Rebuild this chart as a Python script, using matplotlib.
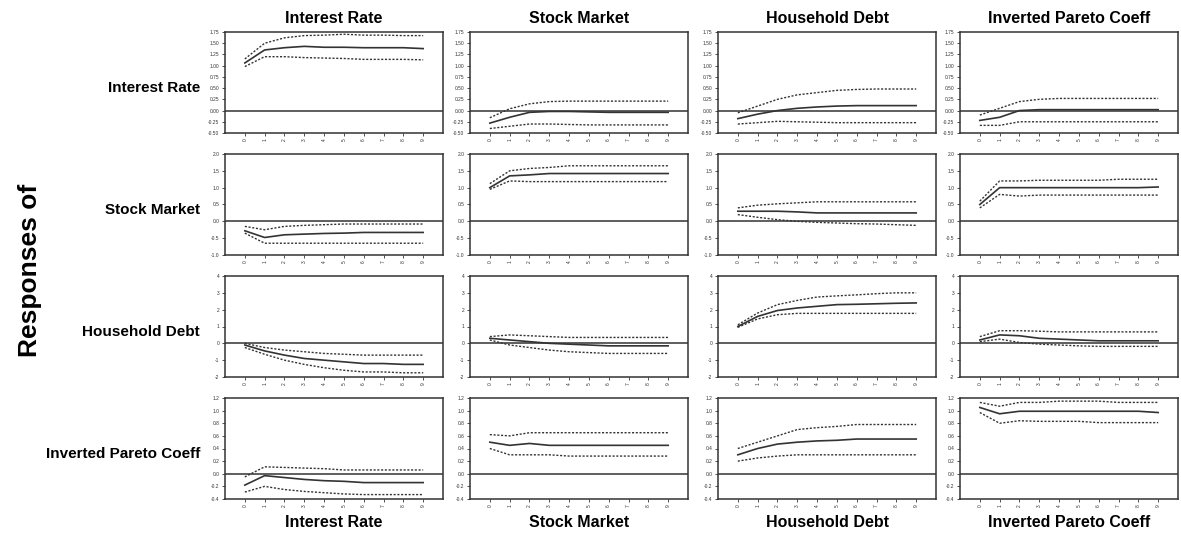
import matplotlib.pyplot as plt
import numpy as np

plt.rcParams['font.family'] = ['Liberation Sans', 'DejaVu Sans']

steps = np.arange(10)
names = ["Interest Rate", "Stock Market", "Household Debt", "Inverted Pareto Coeff"]

# row 1: responses of Interest Rate
ir_ir = [1.06, 1.35, 1.40, 1.43, 1.41, 1.41, 1.40, 1.40, 1.40, 1.38]
ir_ir_hi = [1.15, 1.50, 1.62, 1.67, 1.68, 1.70, 1.68, 1.68, 1.67, 1.67]
ir_ir_lo = [0.98, 1.20, 1.20, 1.18, 1.17, 1.16, 1.14, 1.14, 1.14, 1.13]
ir_sm = [-0.28, -0.15, -0.04, -0.02, -0.02, -0.03, -0.04, -0.04, -0.04, -0.04]
ir_sm_hi = [-0.16, 0.04, 0.15, 0.20, 0.21, 0.21, 0.21, 0.21, 0.21, 0.21]
ir_sm_lo = [-0.40, -0.35, -0.30, -0.30, -0.31, -0.32, -0.32, -0.32, -0.32, -0.32]
ir_hd = [-0.18, -0.08, 0.00, 0.05, 0.08, 0.10, 0.11, 0.11, 0.11, 0.11]
ir_hd_hi = [-0.05, 0.10, 0.25, 0.35, 0.40, 0.45, 0.47, 0.48, 0.48, 0.48]
ir_hd_lo = [-0.30, -0.27, -0.24, -0.25, -0.26, -0.27, -0.27, -0.27, -0.27, -0.27]
ir_pc = [-0.22, -0.15, 0.00, 0.02, 0.02, 0.02, 0.02, 0.02, 0.02, 0.02]
ir_pc_hi = [-0.10, 0.05, 0.20, 0.25, 0.27, 0.27, 0.27, 0.27, 0.27, 0.27]
ir_pc_lo = [-0.33, -0.33, -0.25, -0.25, -0.25, -0.25, -0.25, -0.25, -0.25, -0.25]

# row 2: responses of Stock Market
sm_ir = [-0.28, -0.48, -0.40, -0.38, -0.36, -0.35, -0.33, -0.33, -0.33, -0.33]
sm_ir_hi = [-0.15, -0.25, -0.15, -0.12, -0.10, -0.08, -0.08, -0.08, -0.08, -0.08]
sm_ir_lo = [-0.35, -0.65, -0.65, -0.65, -0.65, -0.65, -0.65, -0.65, -0.65, -0.65]
sm_sm = [1.00, 1.35, 1.38, 1.42, 1.42, 1.42, 1.42, 1.42, 1.42, 1.42]
sm_sm_hi = [1.12, 1.50, 1.57, 1.60, 1.65, 1.65, 1.65, 1.65, 1.65, 1.65]
sm_sm_lo = [0.95, 1.20, 1.18, 1.18, 1.18, 1.18, 1.18, 1.18, 1.18, 1.18]
sm_hd = [0.30, 0.30, 0.30, 0.28, 0.25, 0.25, 0.25, 0.25, 0.25, 0.25]
sm_hd_hi = [0.40, 0.48, 0.52, 0.55, 0.58, 0.58, 0.58, 0.58, 0.58, 0.58]
sm_hd_lo = [0.20, 0.12, 0.05, 0.00, -0.03, -0.05, -0.07, -0.08, -0.10, -0.12]
sm_pc = [0.50, 1.00, 1.00, 1.00, 1.00, 1.00, 1.00, 1.00, 1.00, 1.02]
sm_pc_hi = [0.60, 1.20, 1.20, 1.22, 1.22, 1.22, 1.22, 1.25, 1.25, 1.25]
sm_pc_lo = [0.40, 0.80, 0.75, 0.78, 0.78, 0.78, 0.78, 0.78, 0.78, 0.78]

# row 3: responses of Household Debt
hd_ir = [-0.10, -0.45, -0.70, -0.90, -1.00, -1.10, -1.20, -1.20, -1.25, -1.25]
hd_ir_hi = [0.00, -0.25, -0.40, -0.50, -0.60, -0.65, -0.70, -0.70, -0.70, -0.70]
hd_ir_lo = [-0.25, -0.65, -1.00, -1.25, -1.45, -1.60, -1.70, -1.70, -1.75, -1.75]
hd_sm = [0.30, 0.20, 0.10, 0.00, -0.05, -0.10, -0.15, -0.15, -0.15, -0.15]
hd_sm_hi = [0.40, 0.50, 0.45, 0.40, 0.35, 0.35, 0.35, 0.35, 0.35, 0.35]
hd_sm_lo = [0.20, -0.10, -0.25, -0.40, -0.50, -0.55, -0.60, -0.60, -0.60, -0.60]
hd_hd = [1.00, 1.60, 1.95, 2.10, 2.20, 2.30, 2.32, 2.35, 2.38, 2.40]
hd_hd_hi = [1.10, 1.80, 2.30, 2.55, 2.75, 2.82, 2.88, 2.95, 3.00, 3.00]
hd_hd_lo = [0.95, 1.45, 1.70, 1.78, 1.78, 1.78, 1.78, 1.78, 1.78, 1.78]
hd_pc = [0.20, 0.50, 0.45, 0.30, 0.25, 0.20, 0.15, 0.15, 0.15, 0.15]
hd_pc_hi = [0.40, 0.75, 0.75, 0.72, 0.68, 0.68, 0.68, 0.68, 0.68, 0.68]
hd_pc_lo = [0.10, 0.25, 0.05, -0.05, -0.10, -0.15, -0.18, -0.18, -0.18, -0.18]

# row 4: responses of Inverted Pareto Coeff
pc_ir = [-0.18, -0.03, -0.06, -0.09, -0.11, -0.12, -0.14, -0.14, -0.14, -0.14]
pc_ir_hi = [-0.05, 0.11, 0.10, 0.09, 0.08, 0.06, 0.06, 0.06, 0.06, 0.06]
pc_ir_lo = [-0.29, -0.20, -0.25, -0.28, -0.30, -0.32, -0.33, -0.33, -0.33, -0.33]
pc_sm = [0.50, 0.45, 0.48, 0.45, 0.45, 0.45, 0.45, 0.45, 0.45, 0.45]
pc_sm_hi = [0.62, 0.60, 0.65, 0.65, 0.65, 0.65, 0.65, 0.65, 0.65, 0.65]
pc_sm_lo = [0.40, 0.30, 0.30, 0.30, 0.28, 0.28, 0.28, 0.28, 0.28, 0.28]
pc_hd = [0.30, 0.40, 0.47, 0.50, 0.52, 0.53, 0.55, 0.55, 0.55, 0.55]
pc_hd_hi = [0.40, 0.50, 0.60, 0.70, 0.73, 0.75, 0.78, 0.78, 0.78, 0.78]
pc_hd_lo = [0.20, 0.25, 0.28, 0.30, 0.30, 0.30, 0.30, 0.30, 0.30, 0.30]
pc_pc = [1.05, 0.95, 0.99, 0.99, 0.99, 0.99, 0.99, 0.99, 0.99, 0.97]
pc_pc_hi = [1.13, 1.07, 1.13, 1.13, 1.15, 1.15, 1.15, 1.13, 1.13, 1.13]
pc_pc_lo = [0.97, 0.80, 0.84, 0.83, 0.83, 0.83, 0.81, 0.81, 0.81, 0.81]

panels = [
    [(ir_ir, ir_ir_hi, ir_ir_lo), (ir_sm, ir_sm_hi, ir_sm_lo), (ir_hd, ir_hd_hi, ir_hd_lo), (ir_pc, ir_pc_hi, ir_pc_lo)],
    [(sm_ir, sm_ir_hi, sm_ir_lo), (sm_sm, sm_sm_hi, sm_sm_lo), (sm_hd, sm_hd_hi, sm_hd_lo), (sm_pc, sm_pc_hi, sm_pc_lo)],
    [(hd_ir, hd_ir_hi, hd_ir_lo), (hd_sm, hd_sm_hi, hd_sm_lo), (hd_hd, hd_hd_hi, hd_hd_lo), (hd_pc, hd_pc_hi, hd_pc_lo)],
    [(pc_ir, pc_ir_hi, pc_ir_lo), (pc_sm, pc_sm_hi, pc_sm_lo), (pc_hd, pc_hd_hi, pc_hd_lo), (pc_pc, pc_pc_hi, pc_pc_lo)],
]

row_ticks = [
    (np.arange(-0.5, 1.76, 0.25), "%.2f"),
    (np.arange(-1.0, 2.01, 0.5), "%.1f"),
    (np.arange(-2, 5, 1), "%d"),
    (np.arange(-0.4, 1.21, 0.2), "%.1f"),
]

W, H = 1181, 533
fig = plt.figure(figsize=(W / 100, H / 100), dpi=100)

col_x = [225, 470, 718, 960]
row_y = [32, 154, 276, 398]
aw, ah = 218, 101
ink = "#333333"

for r in range(4):
    ticks, fmt = row_ticks[r]
    for c in range(4):
        ax = fig.add_axes([col_x[c] / W, 1 - (row_y[r] + ah) / H, aw / W, ah / H])
        mid, hi, lo = panels[r][c]
        ax.plot(steps, mid, color=ink, lw=1.2)
        ax.plot(steps, hi, color=ink, lw=1.0, ls=(0, (1.5, 1.2)))
        ax.plot(steps, lo, color=ink, lw=1.0, ls=(0, (1.5, 1.2)))
        ax.axhline(0, color=ink, lw=1.1)
        ax.set_xlim(-1, 10)
        ax.set_ylim(ticks[0], ticks[-1])
        ax.set_yticks(ticks)
        ax.set_yticklabels([fmt % t for t in ticks])
        ax.set_xticks(steps)
        ax.set_xticklabels([str(s) for s in steps], rotation=90)
        ax.tick_params(labelsize=3.5, colors=ink, length=2.5, width=0.6, pad=1.5)
        for s in ax.spines.values():
            s.set_color(ink)
            s.set_linewidth(1.1)
        if r == 0:
            ax.text(0.5, 1.06, names[c], transform=ax.transAxes, ha="center",
                    va="bottom", fontsize=11.5, fontweight="bold")
        if r == 3:
            ax.text(0.5, -0.16, names[c], transform=ax.transAxes, ha="center",
                    va="top", fontsize=11.5, fontweight="bold")
    fig.text(200 / W, 1 - (row_y[r] + ah * 0.55) / H, names[r], ha="right",
             va="center", fontsize=11, fontweight="bold")

fig.text(30 / W, 1 - 270 / H, "Responses of", rotation=90, ha="center",
         va="center", fontsize=19, fontweight="bold")

fig.savefig("out.png", dpi=100)
